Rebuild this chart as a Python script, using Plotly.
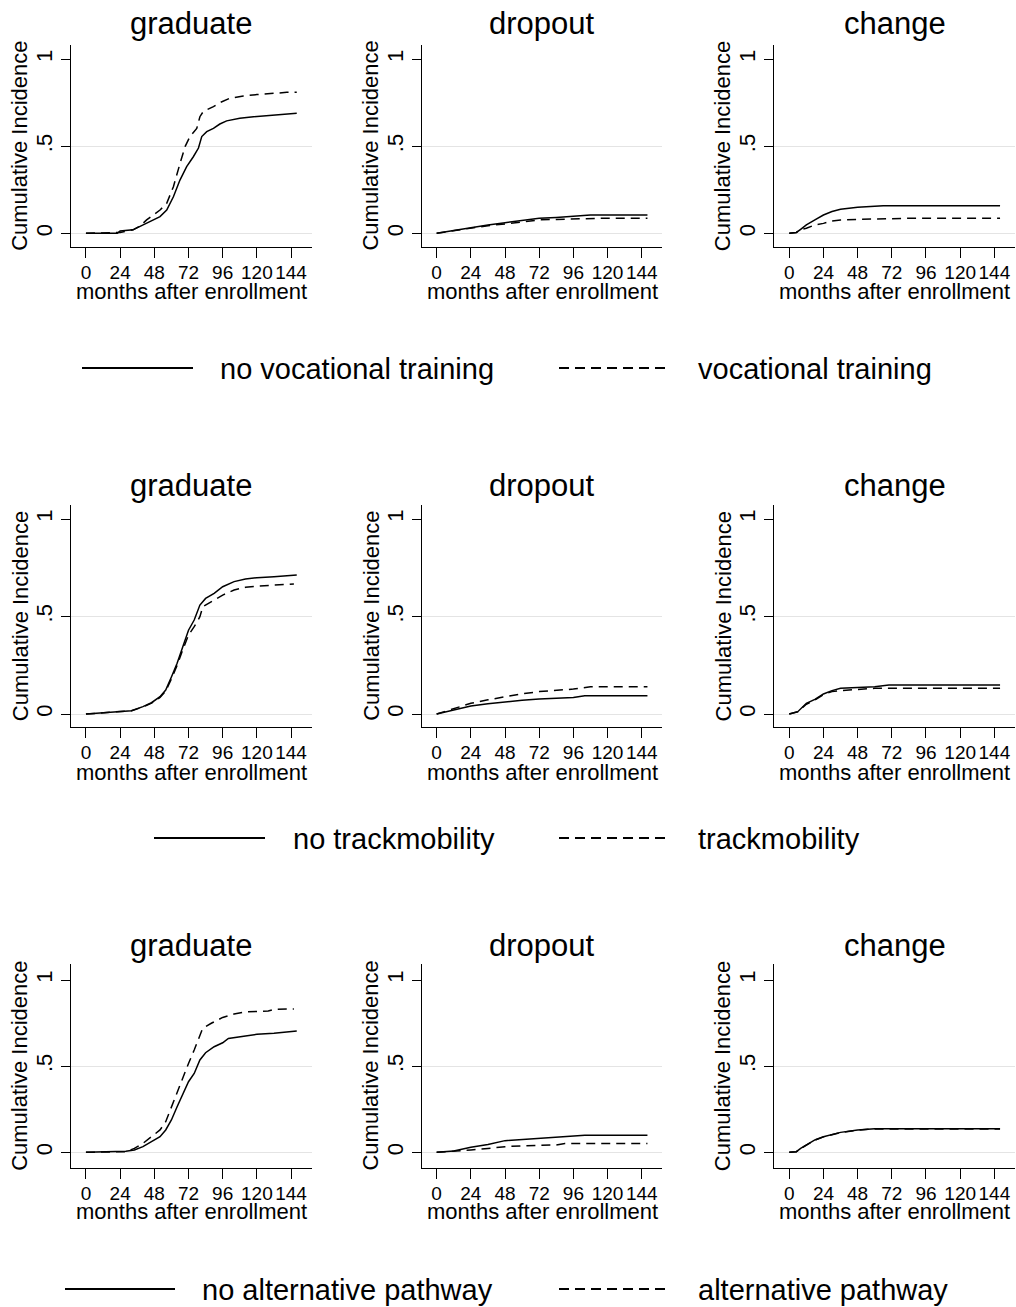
import plotly.graph_objects as go

W, H = 1016, 1307
FONT = "Arial, 'Liberation Sans', sans-serif"

# ---------------- tick labels / categories ----------------
month_ticks = [0, 24, 48, 72, 96, 120, 144]
ci_ticks = [0, 0.5, 1]
ci_tick_text = ["0", ".5", "1"]
panel_titles = ["graduate", "dropout", "change"]
x_title = "months after enrollment"
y_title = "Cumulative Incidence"
legend_no = ["no vocational training", "no trackmobility", "no alternative pathway"]
legend_yes = ["vocational training", "trackmobility", "alternative pathway"]

# ---------------- row 1: vocational training ----------------
voc_grad_m_no = [0, 22, 24, 33, 38, 42.6, 47.3, 52, 56.7, 61.4, 66, 70.7, 75.4, 79, 81.3, 84.8, 89.5, 94, 98.8, 108, 117.6, 127, 138.6, 144.5, 148]
voc_grad_ci_no = [0, 0, 0.013, 0.02, 0.04, 0.057, 0.077, 0.096, 0.134, 0.21, 0.306, 0.383, 0.44, 0.49, 0.556, 0.584, 0.603, 0.628, 0.646, 0.661, 0.67, 0.676, 0.68, 0.686, 0.69]
voc_grad_m_yes = [0, 24, 33, 38, 42.6, 47.3, 52, 56.7, 61.4, 66, 69.6, 73, 77.8, 80, 82.4, 89.5, 94, 101, 110.5, 120, 131.6, 141, 148]
voc_grad_ci_yes = [0, 0.005, 0.02, 0.042, 0.077, 0.105, 0.134, 0.172, 0.268, 0.40, 0.498, 0.556, 0.603, 0.67, 0.70, 0.728, 0.751, 0.776, 0.789, 0.797, 0.805, 0.81, 0.81]

voc_drop_m_no = [0, 12, 24, 36, 48, 60, 72, 84, 96, 108, 120, 148]
voc_drop_ci_no = [0, 0.017, 0.033, 0.048, 0.061, 0.075, 0.086, 0.091, 0.096, 0.105, 0.105, 0.105]
voc_drop_m_yes = [0, 12, 24, 36, 48, 60, 72, 84, 96, 108, 120, 148]
voc_drop_ci_yes = [0, 0.016, 0.030, 0.044, 0.054, 0.066, 0.077, 0.080, 0.082, 0.086, 0.087, 0.087]

voc_chg_m_no = [0, 5, 8, 12, 18, 24, 30, 36, 48, 60, 66, 148]
voc_chg_ci_no = [0, 0.005, 0.023, 0.048, 0.077, 0.105, 0.125, 0.138, 0.149, 0.153, 0.159, 0.159]
voc_chg_m_yes = [0, 5, 8, 12, 18, 24, 30, 36, 48, 84, 148]
voc_chg_ci_yes = [0, 0.005, 0.02, 0.029, 0.048, 0.057, 0.071, 0.077, 0.08, 0.086, 0.086]

# ---------------- row 2: trackmobility ----------------
trk_grad_m_no = [0, 12, 32, 40, 46, 52, 56, 60, 64, 68, 72, 76, 79, 80, 84, 90, 96, 104, 112, 120, 132, 148]
trk_grad_ci_no = [0, 0.007, 0.017, 0.038, 0.058, 0.089, 0.123, 0.19, 0.26, 0.345, 0.43, 0.482, 0.533, 0.559, 0.593, 0.619, 0.653, 0.679, 0.692, 0.699, 0.704, 0.713]
trk_grad_m_yes = [0, 12, 32, 40, 46, 52, 56, 60, 64, 68, 72, 76, 80, 82, 88, 96, 104, 112, 120, 132, 146]
trk_grad_ci_yes = [0, 0.007, 0.017, 0.036, 0.056, 0.085, 0.118, 0.18, 0.25, 0.33, 0.405, 0.448, 0.499, 0.55, 0.576, 0.61, 0.636, 0.65, 0.656, 0.662, 0.667]

trk_drop_m_no = [0, 12, 24, 36, 48, 60, 72, 84, 96, 104, 148]
trk_drop_ci_no = [0, 0.022, 0.041, 0.053, 0.063, 0.071, 0.077, 0.082, 0.085, 0.094, 0.094]
trk_drop_m_yes = [0, 12, 24, 36, 48, 60, 72, 84, 96, 108, 148]
trk_drop_ci_yes = [0, 0.026, 0.055, 0.073, 0.089, 0.104, 0.115, 0.122, 0.128, 0.14, 0.14]

trk_chg_m_no = [0, 6, 12, 18, 24, 30, 36, 48, 60, 70, 148]
trk_chg_ci_no = [0, 0.012, 0.055, 0.075, 0.103, 0.12, 0.132, 0.137, 0.14, 0.149, 0.149]
trk_chg_m_yes = [0, 6, 12, 18, 24, 30, 36, 48, 60, 148]
trk_chg_ci_yes = [0, 0.012, 0.05, 0.072, 0.1, 0.115, 0.12, 0.126, 0.132, 0.132]

# ---------------- row 3: alternative pathway ----------------
alt_grad_m_no = [0, 28, 34, 40, 46, 52, 56, 60, 64, 68, 72, 76, 80, 84, 90, 96, 100, 112, 120, 132, 148]
alt_grad_ci_no = [0, 0.006, 0.014, 0.033, 0.062, 0.091, 0.13, 0.188, 0.265, 0.342, 0.41, 0.458, 0.536, 0.578, 0.613, 0.636, 0.661, 0.675, 0.685, 0.691, 0.704]
alt_grad_m_yes = [0, 28, 34, 40, 46, 52, 56, 60, 64, 68, 72, 76, 80, 82, 88, 96, 104, 112, 128, 132, 146]
alt_grad_ci_yes = [0, 0.004, 0.023, 0.052, 0.091, 0.13, 0.178, 0.265, 0.342, 0.439, 0.516, 0.594, 0.671, 0.72, 0.749, 0.783, 0.803, 0.816, 0.82, 0.83, 0.832]

alt_drop_m_no = [0, 12, 24, 36, 48, 60, 72, 84, 96, 104, 148]
alt_drop_ci_no = [0, 0.008, 0.029, 0.046, 0.068, 0.075, 0.081, 0.091, 0.095, 0.1, 0.1]
alt_drop_m_yes = [0, 12, 24, 36, 48, 60, 72, 84, 90, 148]
alt_drop_ci_yes = [0, 0.006, 0.014, 0.023, 0.033, 0.038, 0.041, 0.043, 0.052, 0.052]

alt_chg_m_no = [0, 5, 8, 12, 18, 24, 30, 36, 48, 60, 148]
alt_chg_ci_no = [0, 0.004, 0.023, 0.043, 0.072, 0.091, 0.104, 0.116, 0.13, 0.137, 0.137]
alt_chg_m_yes = [0, 5, 8, 12, 18, 24, 30, 36, 48, 60, 148]
alt_chg_ci_yes = [0, 0.004, 0.022, 0.042, 0.071, 0.090, 0.103, 0.115, 0.129, 0.136, 0.136]

rows = [
    [(voc_grad_m_no, voc_grad_ci_no, voc_grad_m_yes, voc_grad_ci_yes),
     (voc_drop_m_no, voc_drop_ci_no, voc_drop_m_yes, voc_drop_ci_yes),
     (voc_chg_m_no, voc_chg_ci_no, voc_chg_m_yes, voc_chg_ci_yes)],
    [(trk_grad_m_no, trk_grad_ci_no, trk_grad_m_yes, trk_grad_ci_yes),
     (trk_drop_m_no, trk_drop_ci_no, trk_drop_m_yes, trk_drop_ci_yes),
     (trk_chg_m_no, trk_chg_ci_no, trk_chg_m_yes, trk_chg_ci_yes)],
    [(alt_grad_m_no, alt_grad_ci_no, alt_grad_m_yes, alt_grad_ci_yes),
     (alt_drop_m_no, alt_drop_ci_no, alt_drop_m_yes, alt_drop_ci_yes),
     (alt_chg_m_no, alt_chg_ci_no, alt_chg_m_yes, alt_chg_ci_yes)],
]

# ---------------- layout geometry (pixels) ----------------
col_left = [71, 421.7, 774.3]
col_width = 240.7
row_top = [45, 505, 964]
row_bottom = [246.7, 727.3, 1167.7]
row_yrange = [[-0.077, 1.082], [-0.068, 1.072], [-0.089, 1.093]]
x_range = [-10.5, 158.5]
title_y = [23, 485, 945]
xtitle_y = [291, 772, 1211]
legend_y = [368, 838, 1289]
legend_solid = [(82, 193), (154, 265), (65, 175)]
legend_solid_text = [218, 291, 200]
legend_dash = [(559, 668), (559, 668), (559, 668)]
legend_dash_text = [696, 696, 696]


def fx(p):
    return p / W


def fy(p):
    return 1 - p / H


fig = go.Figure()
layout = dict(
    width=W, height=H, margin=dict(l=0, r=0, t=0, b=0),
    paper_bgcolor="white", plot_bgcolor="white",
    showlegend=False, font=dict(family=FONT, color="black"),
)
annotations = []
shapes = []

for r in range(3):
    for c in range(3):
        i = r * 3 + c
        suffix = "" if i == 0 else str(i + 1)
        m_no, ci_no, m_yes, ci_yes = rows[r][c]
        fig.add_trace(go.Scatter(x=m_no, y=ci_no, mode="lines", xaxis="x" + suffix, yaxis="y" + suffix,
                                 line=dict(color="black", width=1.5), name=legend_no[r]))
        fig.add_trace(go.Scatter(x=m_yes, y=ci_yes, mode="lines", xaxis="x" + suffix, yaxis="y" + suffix,
                                 line=dict(color="black", width=1.5, dash="9px,6px"), name=legend_yes[r]))
        x0 = col_left[c]
        x1 = x0 + col_width
        layout["xaxis" + suffix] = dict(
            domain=[fx(x0), min(fx(x1), 1)], anchor="y" + suffix, range=x_range,
            tickmode="array", tickvals=month_ticks, ticks="outside", ticklen=10, tickwidth=1.2,
            tickangle=0, tickcolor="black", showline=True, linecolor="black", linewidth=1.3,
            showgrid=False, zeroline=False, fixedrange=True, ticklabelstandoff=-2,
            tickfont=dict(size=19, family=FONT, color="black"),
        )
        layout["yaxis" + suffix] = dict(
            domain=[fy(row_bottom[r]), fy(row_top[r])], anchor="x" + suffix, range=row_yrange[r],
            tickmode="array", tickvals=ci_ticks, ticktext=ci_tick_text, tickangle=-90,
            ticks="outside", ticklen=9, tickwidth=1.2, tickcolor="black",
            showline=True, linecolor="black", linewidth=1.3,
            showgrid=False, zeroline=False, fixedrange=True,
            tickfont=dict(size=22, family=FONT, color="black"),
            minor=dict(tickmode="array", tickvals=[0, 0.5], ticks="", showgrid=True,
                       gridcolor="#e4e4e4", gridwidth=1),
        )
        cx = (x0 + x1) / 2
        annotations.append(dict(text=panel_titles[c], x=fx(cx), y=fy(title_y[r]), xref="paper", yref="paper",
                                xanchor="center", yanchor="middle", showarrow=False,
                                font=dict(size=31, family=FONT, color="black")))
        annotations.append(dict(text=x_title, x=fx(cx), y=fy(xtitle_y[r]), xref="paper", yref="paper",
                                xanchor="center", yanchor="middle", showarrow=False,
                                font=dict(size=22, family=FONT, color="black")))
        cy = (row_top[r] + row_bottom[r]) / 2
        annotations.append(dict(text=y_title, x=fx(x0 - 51), y=fy(cy), xref="paper", yref="paper",
                                xanchor="center", yanchor="middle", textangle=-90, showarrow=False,
                                font=dict(size=22, family=FONT, color="black")))

    # legend for the row
    sx0, sx1 = legend_solid[r]
    dx0, dx1 = legend_dash[r]
    shapes.append(dict(type="line", xref="paper", yref="paper", x0=fx(sx0), x1=fx(sx1),
                       y0=fy(legend_y[r]), y1=fy(legend_y[r]), line=dict(color="black", width=2)))
    shapes.append(dict(type="line", xref="paper", yref="paper", x0=fx(dx0), x1=fx(dx1),
                       y0=fy(legend_y[r]), y1=fy(legend_y[r]), line=dict(color="black", width=2, dash="10px,6px")))
    annotations.append(dict(text=legend_no[r], x=fx(legend_solid_text[r]), y=fy(legend_y[r] + 1), xref="paper",
                            yref="paper", xanchor="left", yanchor="middle", showarrow=False,
                            font=dict(size=29, family=FONT, color="black")))
    annotations.append(dict(text=legend_yes[r], x=fx(legend_dash_text[r]), y=fy(legend_y[r] + 1), xref="paper",
                            yref="paper", xanchor="left", yanchor="middle", showarrow=False,
                            font=dict(size=29, family=FONT, color="black")))

layout["annotations"] = annotations
layout["shapes"] = shapes
fig.update_layout(**layout)

fig.write_html("out.html", config={"displayModeBar": False},
               post_script="document.body.style.margin='0';document.body.style.overflow='hidden';")
